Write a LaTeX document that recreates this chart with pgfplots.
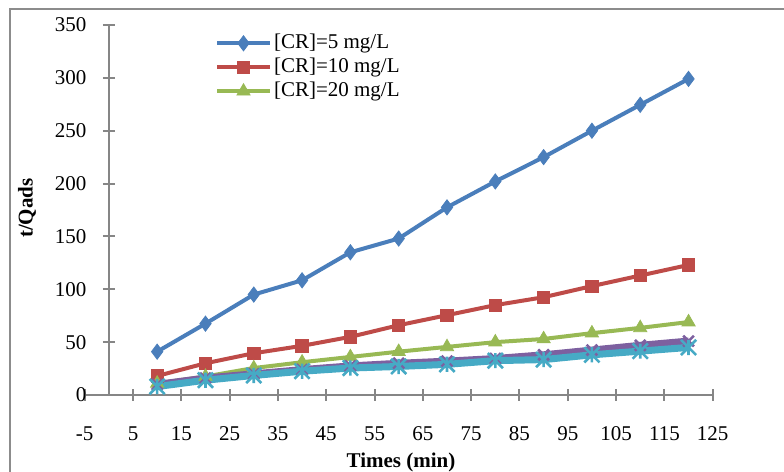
\documentclass[border=0pt]{standalone}
\usepackage{fontspec}
\setmainfont{Liberation Serif}
\usepackage{pgfplots}
\usepackage{pgfplotstable}
\pgfplotsset{compat=1.18}
\definecolor{cblue}{HTML}{4A7EBB}
\definecolor{cred}{HTML}{BE4B48}
\definecolor{cgreen}{HTML}{98B954}
\definecolor{cpurple}{HTML}{7D60A0}
\definecolor{ccyan}{HTML}{46AAC5}
\definecolor{axiscol}{HTML}{868686}
\definecolor{framecol}{HTML}{8C8C8C}
\pgfdeclareplotmark{xstar}{%
  \pgfpathmoveto{\pgfqpoint{0pt}{\pgfplotmarksize}}%
  \pgfpathlineto{\pgfqpoint{0pt}{-\pgfplotmarksize}}%
  \pgfpathmoveto{\pgfqpoint{\pgfplotmarksize}{\pgfplotmarksize}}%
  \pgfpathlineto{\pgfqpoint{-\pgfplotmarksize}{-\pgfplotmarksize}}%
  \pgfpathmoveto{\pgfqpoint{-\pgfplotmarksize}{\pgfplotmarksize}}%
  \pgfpathlineto{\pgfqpoint{\pgfplotmarksize}{-\pgfplotmarksize}}%
  \pgfusepathqstroke}
\pgfplotstableread{
x blue red green purple cyan
10 41 18 11 10 8
20 67.5 30 17.5 16 14
30 95 39.5 25.5 20 18.5
40 108.5 46.5 31 24 22.5
50 135 55 36 27.5 25.5
60 148 66 41 30 27
70 177.5 75.5 45.5 32 29
80 202 85 50 34.5 32.5
90 225 92.5 53 38 33.5
100 250 103 58.5 42.5 38
110 274.5 113 63.5 47 41.5
120 299 123 69 51 45
}\datatable
\begin{document}
\fontsize{10.5}{12.6}\selectfont
\begin{tikzpicture}
\path[use as bounding box] (0,0) rectangle (392pt,236pt);
\draw[framecol, line width=1.2pt] (5pt,-5pt) -- (5pt,231.5pt) -- (400pt,231.5pt);
\begin{axis}[
  at={(42.35pt,38.5pt)}, anchor=south west,
  scale only axis, width=314pt, height=185pt,
  xmin=-5, xmax=125, ymin=0, ymax=350,
  axis x line=bottom, axis y line=middle,
  axis line style={-, draw=axiscol, line width=1pt},
  xtick={-5,5,...,125}, ytick={0,50,...,350},
  tick align=center, major tick length=6pt,
  tick style={draw=axiscol, line width=1pt},
  hide obscured y ticks=false, hide obscured x ticks=false,
  /pgf/number format/assume math mode=true,
  yticklabel style={anchor=east, xshift=-4.5pt},
  xticklabel style={anchor=north, yshift=-9pt},
  xlabel={\textbf{Times (min)}}, ylabel={\textbf{t/Qads}},
  every axis x label/.style={at={(axis description cs:0.5037,-0.181)}, anchor=center},
  every axis y label/.style={at={(axis description cs:-0.0919,0.505)}, anchor=center, rotate=90},
  legend style={at={(0.2075,0.983)}, anchor=north west, draw=none, fill=none,
    inner sep=0pt, outer sep=0pt, row sep=0pt,
    nodes={inner sep=1pt, text height=7.5pt, text depth=2.5pt, anchor=west}},
  legend cell align=left,
  legend image code/.code={\draw[mark repeat=2, mark phase=2] plot coordinates {(0pt,0pt) (13.25pt,0pt) (26.5pt,0pt)};},
  clip=false,
]
\addplot[draw=cblue, line width=2pt, mark=diamond*, mark size=3.8pt, mark options={fill=cblue, draw=cblue, line width=0.4pt}] table[x=x, y=blue] {\datatable};
\addlegendentry{[CR]=5 mg/L}
\addplot[draw=cred, line width=2pt, mark=square*, mark size=3.1pt, mark options={fill=cred, draw=cred, line width=0.4pt}] table[x=x, y=red] {\datatable};
\addlegendentry{[CR]=10 mg/L}
\addplot[draw=cgreen, line width=2pt, mark=triangle*, mark size=3.8pt, mark options={fill=cgreen, draw=cgreen, line width=0.4pt}] table[x=x, y=green] {\datatable};
\addlegendentry{[CR]=20 mg/L}
\addplot[draw=cpurple, line width=3.5pt, mark=x, mark size=3.8pt, mark options={draw=cpurple, line width=1.3pt}, forget plot] table[x=x, y=purple] {\datatable};
\addplot[draw=ccyan, line width=3.5pt, mark=xstar, mark size=3.8pt, mark options={draw=ccyan, line width=1.3pt}, forget plot] table[x=x, y=cyan] {\datatable};
\end{axis}
\end{tikzpicture}
\end{document}
